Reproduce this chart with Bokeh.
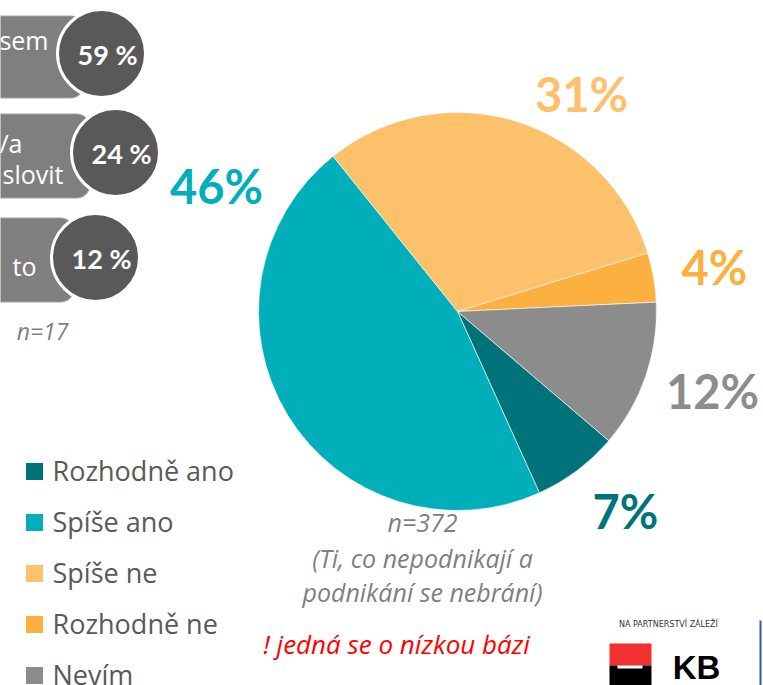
import numpy as np
from bokeh.plotting import figure
from bokeh.models import Range1d, BoxAnnotation
from bokeh.core.properties import value
from bokeh.embed import file_html
from bokeh.resources import INLINE

# ---------------- data ----------------
categories = ["Rozhodně ano", "Spíše ano", "Spíše ne", "Rozhodně ne", "Nevím"]
shares = [7, 46, 31, 4, 12]
colors = ["#00737A", "#00AFB9", "#FDC06B", "#FBB040", "#8C8C8C"]
pct_labels = ["7%", "46%", "31%", "4%", "12%"]

side_values = ["59 %", "24 %", "12 %"]
side_texts = [["sem"], ["/a", "slovit"], ["to"]]
side_n = "n=17"

note_lines = ["n=372", "(Ti, co nepodnikají a", "podnikání se nebrání)"]
warning = "! jedná se o nízkou bázi"
brand_tag = "NA PARTNERSTVÍ ZÁLEŽÍ"
brand = "KB"

# ---------------- figure (data units == screen pixels) ----------------
W, H = 763, 685
p = figure(width=W, height=H, x_range=Range1d(0, W), y_range=Range1d(0, H),
           output_backend="svg", toolbar_location=None, min_border=0)
p.axis.visible = False
p.grid.visible = False
p.outline_line_color = None
p.background_fill_color = "white"
p.border_fill_color = "white"


def Y(sy):
    return H - sy


LATO = value("Lato")
OPEN = value("Open Sans")

# ---------------- pie ----------------
frac = np.array(shares, dtype=float) / sum(shares)
start_deg = -40.5
cum = np.concatenate([[0.0], np.cumsum(frac)[:-1]])
starts = np.deg2rad(start_deg - 360 * cum)
ends = np.deg2rad(start_deg - 360 * (cum + frac))
cx, cy, r = 457, Y(311), 199
p.wedge(x=cx, y=cy, radius=r, start_angle=starts, end_angle=ends, direction="clock",
        fill_color=colors, line_color="white", line_width=0.6)

# percentage labels (layout positions)
label_pos = [(625, 510), (216, 185), (581, 93), (714, 266), (712, 390)]
p.text(x=[q[0] for q in label_pos], y=[Y(q[1]) for q in label_pos], text=pct_labels,
       text_color=colors, text_font=LATO, text_font_style="bold", text_font_size="47px",
       text_align="center", text_baseline="middle")

# ---------------- side boxes ----------------
box_geom = [(15, 98, 84), (113, 198, 90), (217, 302, 74)]
for top, bot, right in box_geom:
    p.add_layout(BoxAnnotation(left=-30, right=right, top=Y(top), bottom=Y(bot),
                               fill_color="#7F7F7F", fill_alpha=1.0, line_color="white",
                               line_width=2, border_radius=14, level="underlay"))

circ_pos = [(101, 53), (115, 152), (95, 257)]
p.circle(x=[c[0] for c in circ_pos], y=[Y(c[1]) for c in circ_pos], radius=44,
         fill_color="#595959", line_color="white", line_width=3)
p.text(x=[c[0] + 6 for c in circ_pos], y=[Y(c[1] + 1) for c in circ_pos], text=side_values,
       text_color="white", text_font=LATO, text_font_style="bold", text_font_size="27px",
       text_align="center", text_baseline="middle")

side_text_pos = [[(48, 39)], [(22, 142), (63, 173)], [(36, 265)]]
tx, ty, tt = [], [], []
for lines, poss in zip(side_texts, side_text_pos):
    for s, (x, ym) in zip(lines, poss):
        tx.append(x); ty.append(Y(ym)); tt.append(s)
p.text(x=tx, y=ty, text=tt, text_color="white", text_font=OPEN, text_font_size="25px",
       text_align="right", text_baseline="middle")

p.text(x=[42], y=[Y(330)], text=[side_n], text_color="#7F7F7F", text_font=OPEN,
       text_font_style="italic", text_font_size="23px", text_align="center", text_baseline="middle")

# ---------------- legend ----------------
leg_y = [471 + 51 * i for i in range(len(categories))]
p.rect(x=[34] * len(categories), y=[Y(v) for v in leg_y], width=17, height=17,
       fill_color=colors, line_color=None)
p.text(x=[52] * len(categories), y=[Y(v - 1) for v in leg_y], text=categories,
       text_color="#595959", text_font=OPEN, text_font_size="27px",
       text_align="left", text_baseline="middle")

# ---------------- notes ----------------
note_y = [521, 557, 591]
p.text(x=[422] * 3, y=[Y(v) for v in note_y], text=note_lines, text_color="#7F7F7F",
       text_font=OPEN, text_font_style="italic", text_font_size="25px",
       text_align="center", text_baseline="middle")
p.text(x=[396], y=[Y(643)], text=[warning], text_color="#FF0000", text_font=OPEN,
       text_font_style="italic", text_font_size="26px", text_align="center", text_baseline="middle")

# ---------------- KB logo ----------------
p.text(x=[668], y=[Y(624)], text=[brand_tag], text_color="#333333", text_font=value("DejaVu Sans"),
       text_font_size="8px", text_align="center", text_baseline="middle")
p.quad(left=[609, 609], right=[651, 651], top=[Y(643), Y(665)], bottom=[Y(665), Y(685)],
       fill_color=["#F2302F", "#000000"], line_color=None)
p.quad(left=[617], right=[642], top=[Y(665)], bottom=[Y(668)], fill_color="white", line_color=None)
p.text(x=[696], y=[Y(667)], text=[brand], text_color="#000000", text_font=value("Liberation Sans"),
       text_font_style="bold", text_font_size="33px", text_align="center", text_baseline="middle")
p.quad(left=[759], right=[761], top=[Y(620)], bottom=[Y(685)], fill_color="#3A55A5", line_color=None)

open("out.html", "w").write(file_html(p, INLINE))
